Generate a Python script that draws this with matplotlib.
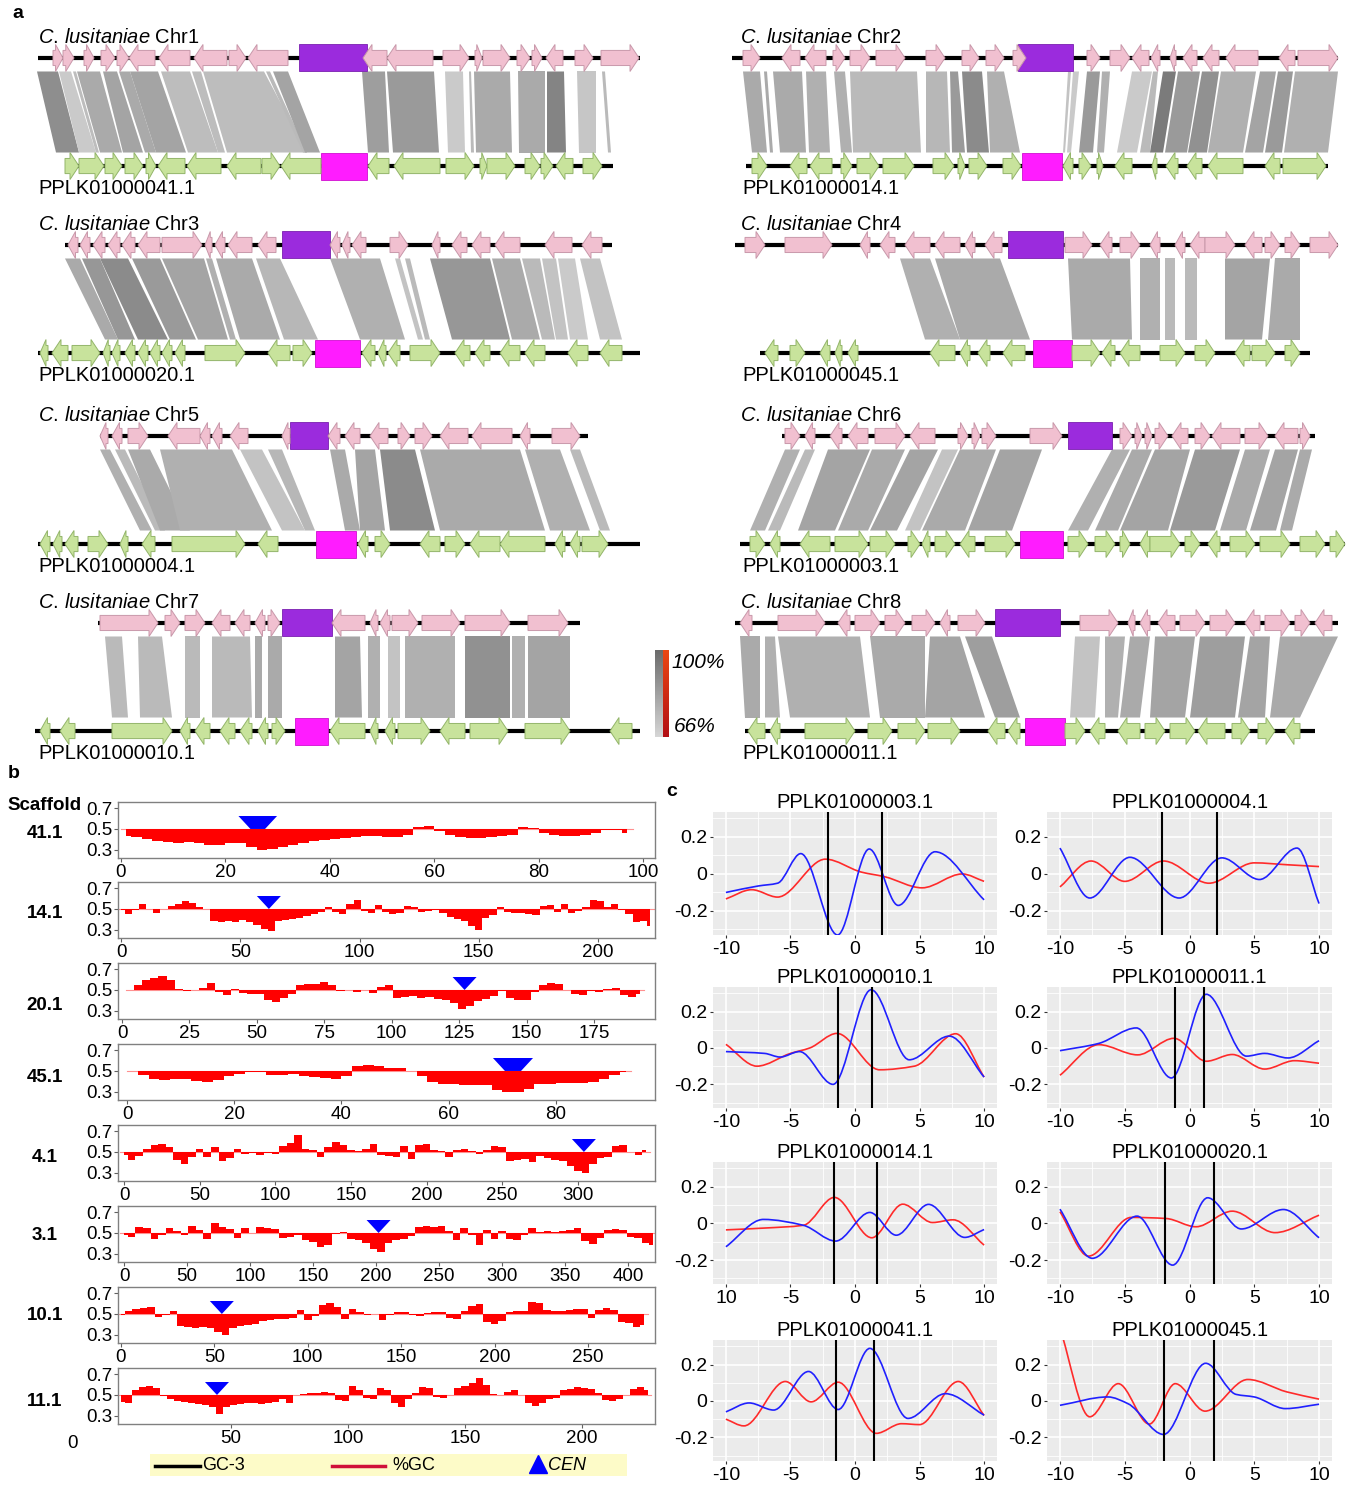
import numpy as np
import matplotlib
matplotlib.use('Agg')
import matplotlib.pyplot as plt
from matplotlib.patches import Polygon, Rectangle, PathPatch
from matplotlib.path import Path

plt.rcParams['font.family'] = ['Liberation Sans', 'DejaVu Sans']
plt.rcParams['axes.unicode_minus'] = False
plt.rcParams['mathtext.fontset'] = 'custom'
plt.rcParams['mathtext.rm'] = 'Liberation Sans'
plt.rcParams['mathtext.it'] = 'Liberation Sans:italic'

W, H = 1358, 1487

# ------------------------------------------------------------------ data: panel a
# genes: (start, end, strand); links: (top_start, top_end, bottom_start, bottom_end, identity %)
chr1_line = (38, 640); chr1_cen = (299, 367)
chr1_genes = [(53,63,1),(63,74,1),(84,94,1),(101,115,1),(117,129,1),(129,155,-1),(159,190,-1),(194,227,-1),
              (229,246,1),(248,288,-1),(363,387,-1),(387,433,-1),(443,469,1),(475,482,1),(483,510,1),(517,530,1),
              (532,542,1),(546,563,-1),(575,593,1),(601,639,1)]
s41_line = (65, 613); s41_cen = (321, 367)
s41_genes = [(65,79,1),(79,104,1),(105,122,1),(125,143,1),(146,156,1),(158,185,-1),(187,221,-1),(227,261,-1),
             (262,280,1),(281,321,-1),(368,389,-1),(394,440,-1),(446,474,1),(480,487,1),(487,515,1),(525,540,1),
             (541,553,1),(556,573,-1),(583,602,1)]
chr1_links = [(37,58,56,79,89),(59,71,79,96,70),(73,76,96,99,74),(77,100,100,122,80),(103,117,123,143,82),
              (119,130,145,156,80),(130,158,156,186,82),(161,190,188,218,74),(192,201,218,225,74),
              (203,264,227,307,74),(266,270,303,307,75),(273,288,305,320,82),(362,385,368,389,84),
              (387,434,393,439,85),(445,463,448,465,70),(469,471,471,474,75),(474,510,476,512,80),
              (518,545,519,545,80),(547,564,547,566,92),(577,596,579,596,71),(602,605,608,611,75)]

chr2_line = (732, 1338); chr2_cen = (1018, 1073)
chr2_genes = [(743,760,1),(782,800,-1),(805,826,-1),(833,845,1),(850,870,1),(876,905,1),(926,945,1),(962,979,1),
              (986,1004,1),(1013,1026,1),(1087,1100,1),(1110,1130,1),(1132,1149,-1),(1151,1160,-1),(1170,1176,-1),
              (1183,1197,-1),(1203,1219,-1),(1226,1258,-1),(1279,1295,-1),(1298,1338,1)]
s14_line = (746, 1328); s14_cen = (1022, 1062)
s14_genes = [(752,767,1),(790,807,-1),(810,832,-1),(841,852,1),(857,879,1),(883,914,1),(933,954,1),(958,965,1),
             (969,987,1),(1003,1021,1),(1063,1073,-1),(1079,1091,1),(1097,1103,1),(1115,1132,-1),(1152,1157,-1),
             (1166,1178,-1),(1187,1202,-1),(1208,1243,-1),(1265,1280,-1),(1283,1326,1)]
chr2_links = [(743,760,752,767,80),(764,767,770,773,80),(773,802,780,806,80),(806,826,809,830,78),
              (834,845,841,852,78),(850,917,853,921,75),(926,947,926,950,76),(950,958,952,965,85),
              (962,982,967,989,90),(987,1004,990,1020,78),(1068,1071,1063,1065,72),(1073,1079,1067,1071,70),
              (1087,1100,1079,1093,85),(1102,1110,1097,1104,78),(1132,1152,1117,1137,70),(1153,1158,1140,1150,75),
              (1163,1176,1150,1163,95),(1178,1200,1165,1187,85),(1202,1219,1188,1207,88),(1221,1256,1208,1243,78),
              (1260,1276,1245,1263,82),(1278,1293,1265,1282,85),(1295,1338,1284,1328,78)]

chr3_line = (65, 612); chr3_cen = (282, 330)
chr3_genes = [(68,78,-1),(80,90,-1),(93,105,-1),(108,120,-1),(122,135,-1),(138,160,-1),(162,202,1),(205,212,-1),
              (215,225,-1),(228,252,-1),(258,276,-1),(330,340,-1),(342,350,-1),(352,366,-1),(390,408,1),
              (432,440,-1),(452,467,-1),(472,490,-1),(495,520,-1),(545,572,-1),(582,602,-1)]
s20_line = (38, 640); s20_cen = (315, 360)
s20_genes = [(40,48,-1),(52,68,-1),(72,100,1),(103,110,-1),(112,120,-1),(125,135,-1),(138,148,-1),(150,160,-1),
             (162,172,-1),(175,185,-1),(205,245,1),(268,290,-1),(293,312,1),(362,375,-1),(378,386,-1),
             (388,400,-1),(410,440,1),(455,470,-1),(475,490,-1),(500,520,-1),(525,545,-1),(568,588,-1),(600,622,-1)]
chr3_links = [(65,80,105,118,80),(82,100,118,135,86),(100,128,138,168,90),(132,160,170,196,85),
              (162,204,198,228,82),(206,212,230,236,78),(216,252,240,280,80),(256,280,284,318,76),
              (330,380,360,405,78),(395,400,418,423,72),(405,410,425,430,75),(430,490,452,510,86),
              (492,520,512,540,80),(522,540,542,555,75),(542,556,556,568,72),(558,575,570,588,70),(580,600,600,622,72)]

chr4_line = (735, 1338); chr4_cen = (1008, 1063)
chr4_genes = [(745,765,1),(785,832,1),(860,870,-1),(880,895,-1),(905,930,-1),(935,960,-1),(965,975,-1),
              (985,1002,-1),(1065,1092,1),(1100,1112,-1),(1120,1140,1),(1150,1160,-1),(1175,1185,-1),
              (1190,1205,-1),(1205,1235,1),(1245,1262,-1),(1265,1280,1),(1285,1300,1),(1310,1338,1)]
s45_line = (760, 1310); s45_cen = (1033, 1072)
s45_genes = [(765,778,-1),(790,805,1),(820,830,-1),(835,842,-1),(848,858,-1),(930,955,-1),(960,970,-1),
             (978,990,-1),(1003,1025,-1),(1072,1100,1),(1102,1115,-1),(1120,1140,-1),(1160,1185,1),
             (1195,1215,1),(1235,1250,-1),(1252,1275,1),(1285,1300,1)]
chr4_links = [(900,930,925,960,78),(935,1000,960,1030,80),(1068,1130,1072,1132,80),(1140,1160,1140,1160,78),
              (1165,1175,1165,1175,75),(1185,1197,1185,1197,75),(1225,1270,1225,1262,82),(1275,1300,1268,1300,80)]

chr5_line = (100, 588); chr5_cen = (290, 328)
chr5_genes = [(100,108,-1),(112,122,-1),(128,148,1),(168,200,-1),(200,210,-1),(212,222,-1),(230,248,-1),
              (282,290,-1),(328,340,-1),(345,360,-1),(370,388,-1),(398,410,1),(415,432,1),(440,468,-1),
              (472,512,-1),(520,530,-1),(552,580,1)]
s4_line = (38, 640); s4_cen = (316, 356)
s4_genes = [(40,50,-1),(53,62,-1),(65,78,-1),(88,108,1),(120,128,-1),(142,155,-1),(172,245,1),(258,278,-1),
            (358,368,-1),(375,390,1),(420,440,-1),(445,465,1),(470,500,-1),(500,545,-1),(555,565,-1),
            (570,580,-1),(582,608,1)]
chr5_links = [(100,110,140,152,78),(115,125,155,165,75),(128,150,160,190,80),(160,232,180,272,78),
              (240,262,282,305,72),(268,282,305,315,76),(330,345,345,360,80),(355,375,360,385,82),
              (380,415,390,435,90),(420,520,440,545,80),(525,560,550,590,78),(570,580,600,610,75)]

chr6_line = (782, 1315); chr6_cen = (1068, 1112)
chr6_genes = [(785,800,1),(805,815,-1),(830,842,-1),(848,868,-1),(875,905,1),(910,935,-1),(958,968,1),
              (972,980,1),(982,996,1),(1030,1062,1),(1120,1132,1),(1135,1142,1),(1145,1152,1),(1155,1168,1),
              (1172,1188,-1),(1195,1210,1),(1212,1240,-1),(1245,1268,1),(1275,1298,-1),(1300,1310,1)]
s3_line = (740, 1345); s3_cen = (1020, 1063)
s3_genes = [(750,765,1),(770,780,-1),(800,830,-1),(835,868,1),(870,895,1),(908,920,1),(922,930,-1),
            (935,955,1),(960,975,-1),(985,1015,1),(1068,1088,1),(1095,1115,1),(1120,1130,1),(1140,1150,-1),
            (1150,1180,1),(1185,1200,1),(1208,1220,-1),(1230,1255,1),(1260,1290,1),(1300,1325,1),(1330,1345,1)]
chr6_links = [(785,800,750,765,78),(805,815,768,780,75),(828,870,798,835,82),(872,905,838,868,80),
              (910,938,870,897,82),(942,958,905,920,72),(960,996,922,965,80),(1000,1042,968,1012,82),
              (1112,1130,1068,1088,78),(1132,1152,1095,1118,80),(1155,1190,1120,1168,82),(1195,1240,1170,1215,85),
              (1245,1270,1220,1246,80),(1275,1298,1250,1276,82),(1300,1312,1280,1292,80)]

chr7_line = (98, 580); chr7_cen = (282, 332)
chr7_genes = [(100,158,1),(165,180,1),(185,205,1),(212,230,-1),(235,250,-1),(255,265,-1),(268,280,1),
              (332,365,-1),(370,378,-1),(380,390,-1),(392,418,1),(422,460,1),(465,510,1),(528,568,1)]
s10_line = (35, 640); s10_cen = (295, 328)
s10_genes = [(40,50,-1),(60,75,-1),(112,172,1),(180,190,-1),(195,210,-1),(220,235,-1),(240,252,-1),
             (258,268,-1),(272,285,1),(330,365,-1),(370,378,-1),(385,395,-1),(398,430,1),(440,465,-1),
             (470,508,1),(525,570,1),(610,632,-1)]
chr7_links = [(105,122,112,128,75),(138,162,140,172,75),(185,200,185,200,75),(212,250,212,252,75),
              (255,262,255,262,80),(268,282,268,282,80),(335,360,335,362,82),(368,380,368,380,78),
              (388,400,388,400,72),(405,455,405,455,78),(465,510,465,510,88),(512,525,512,525,78),(528,570,528,570,82)]

chr8_line = (735, 1338); chr8_cen = (995, 1060)
chr8_genes = [(740,752,-1),(778,825,1),(838,850,-1),(855,880,1),(885,905,1),(912,935,1),(940,950,-1),
              (958,985,1),(1080,1118,1),(1128,1135,-1),(1140,1150,-1),(1158,1175,-1),(1180,1205,1),
              (1210,1235,1),(1245,1260,-1),(1265,1290,1),(1295,1310,1),(1315,1332,-1)]
s11_line = (745, 1315); s11_cen = (1025, 1065)
s11_genes = [(748,765,-1),(770,780,-1),(805,855,1),(868,892,1),(898,925,1),(928,960,1),(988,1005,-1),
             (1008,1020,-1),(1065,1085,1),(1090,1105,-1),(1118,1140,-1),(1145,1165,1),(1170,1195,1),
             (1198,1225,-1),(1232,1250,1),(1258,1275,1),(1285,1300,-1)]
chr8_links = [(740,760,745,760,80),(765,775,765,780,78),(778,860,790,870,78),(870,925,880,925,80),
              (930,960,925,985,82),(965,992,995,1020,84),(1075,1100,1070,1095,72),(1105,1125,1105,1118,78),
              (1130,1150,1120,1140,80),(1155,1195,1150,1185,82),(1200,1245,1190,1235,84),(1250,1270,1238,1265,82),
              (1280,1338,1270,1300,80)]

chr_names = ['Chr1', 'Chr2', 'Chr3', 'Chr4', 'Chr5', 'Chr6', 'Chr7', 'Chr8']
scaf_names = ['PPLK01000041.1', 'PPLK01000014.1', 'PPLK01000020.1', 'PPLK01000045.1',
              'PPLK01000004.1', 'PPLK01000003.1', 'PPLK01000010.1', 'PPLK01000011.1']

# ------------------------------------------------------------------ data: panel b
b_labels = ['41.1', '14.1', '20.1', '45.1', '4.1', '3.1', '10.1', '11.1']
gc41_start, gc41_step = 1, 2
gc41 = [0.43,0.42,0.40,0.38,0.37,0.36,0.37,0.36,0.35,0.35,0.36,0.36,0.33,0.30,0.31,0.33,0.35,0.36,0.38,0.39,
        0.40,0.41,0.42,0.43,0.43,0.42,0.42,0.44,0.52,0.53,0.48,0.44,0.42,0.41,0.41,0.42,0.43,0.44,0.52,0.51,
        0.46,0.44,0.43,0.43,0.44,0.46,0.49,0.49,0.46]
gc14_start, gc14_step = 0, 3
gc14 = [0.49,0.45,0.49,0.55,0.50,0.46,0.50,0.53,0.55,0.58,0.56,0.52,0.50,0.38,0.37,0.38,0.37,0.39,0.37,0.35,
        0.31,0.29,0.38,0.39,0.40,0.41,0.43,0.45,0.47,0.52,0.47,0.45,0.55,0.59,0.48,0.46,0.54,0.47,0.45,0.46,
        0.53,0.52,0.47,0.48,0.49,0.46,0.42,0.40,0.38,0.34,0.30,0.41,0.44,0.52,0.47,0.46,0.46,0.45,0.44,0.53,
        0.54,0.47,0.55,0.46,0.48,0.52,0.59,0.58,0.52,0.55,0.49,0.45,0.37,0.38,0.34]
gc20_start, gc20_step = 3, 3
gc20 = [0.50,0.55,0.60,0.62,0.63,0.60,0.51,0.49,0.50,0.52,0.57,0.48,0.45,0.51,0.47,0.46,0.46,0.40,0.38,0.42,
        0.46,0.55,0.56,0.56,0.58,0.55,0.49,0.50,0.48,0.50,0.47,0.53,0.55,0.42,0.43,0.44,0.42,0.43,0.41,0.40,
        0.37,0.32,0.35,0.39,0.41,0.44,0.49,0.42,0.40,0.40,0.48,0.55,0.57,0.56,0.50,0.46,0.45,0.49,0.48,0.51,
        0.52,0.45,0.43,0.46]
gc45_start, gc45_step = 1, 2
gc45 = [0.50,0.46,0.42,0.41,0.42,0.42,0.40,0.39,0.41,0.45,0.47,0.49,0.49,0.46,0.46,0.47,0.45,0.44,0.43,0.42,
        0.45,0.55,0.56,0.55,0.53,0.53,0.50,0.45,0.39,0.37,0.37,0.36,0.36,0.36,0.32,0.30,0.30,0.33,0.37,0.37,
        0.38,0.38,0.38,0.39,0.42,0.46,0.49]
gc4_start, gc4_step = 0, 5
gc4 = [0.47,0.42,0.46,0.53,0.57,0.58,0.55,0.42,0.38,0.45,0.53,0.45,0.55,0.41,0.44,0.53,0.48,0.49,0.47,0.49,
       0.48,0.56,0.59,0.66,0.53,0.52,0.45,0.55,0.60,0.57,0.52,0.51,0.53,0.58,0.47,0.46,0.45,0.56,0.43,0.57,
       0.58,0.52,0.51,0.45,0.52,0.53,0.51,0.48,0.52,0.56,0.55,0.41,0.42,0.43,0.40,0.46,0.44,0.42,0.41,0.36,
       0.32,0.30,0.38,0.44,0.45,0.56,0.57,0.50,0.47,0.52]
gc3_start, gc3_step = 0, 6
gc3 = [0.48,0.46,0.56,0.55,0.44,0.48,0.55,0.52,0.48,0.57,0.53,0.44,0.60,0.56,0.54,0.45,0.55,0.50,0.56,0.55,
       0.54,0.45,0.46,0.48,0.43,0.41,0.36,0.38,0.49,0.51,0.44,0.43,0.40,0.35,0.32,0.40,0.43,0.44,0.47,0.56,
       0.57,0.56,0.57,0.52,0.43,0.55,0.48,0.38,0.53,0.44,0.52,0.44,0.43,0.48,0.55,0.51,0.52,0.51,0.52,0.53,
       0.55,0.42,0.39,0.45,0.53,0.54,0.53,0.46,0.45,0.40,0.38]
gc10_start, gc10_step = 0, 4
gc10 = [0.49,0.53,0.55,0.56,0.57,0.47,0.49,0.53,0.38,0.37,0.36,0.37,0.36,0.33,0.30,0.36,0.38,0.39,0.40,0.43,
        0.44,0.45,0.45,0.46,0.54,0.44,0.48,0.59,0.61,0.57,0.45,0.55,0.52,0.49,0.50,0.44,0.49,0.52,0.52,0.49,
        0.48,0.51,0.52,0.52,0.46,0.45,0.53,0.58,0.60,0.42,0.40,0.43,0.52,0.53,0.53,0.62,0.61,0.54,0.53,0.53,
        0.54,0.55,0.55,0.46,0.54,0.56,0.54,0.42,0.41,0.37,0.39]
gc11_start, gc11_step = 3, 3
gc11 = [0.43,0.42,0.55,0.58,0.59,0.57,0.49,0.46,0.44,0.43,0.42,0.41,0.40,0.38,0.32,0.38,0.40,0.41,0.42,0.42,
        0.41,0.42,0.43,0.46,0.42,0.50,0.51,0.52,0.52,0.53,0.52,0.45,0.44,0.59,0.55,0.47,0.46,0.57,0.55,0.42,
        0.38,0.46,0.52,0.58,0.57,0.48,0.47,0.50,0.57,0.59,0.62,0.66,0.60,0.51,0.50,0.53,0.55,0.50,0.42,0.39,
        0.42,0.46,0.47,0.55,0.56,0.58,0.57,0.56,0.52,0.45,0.44,0.46,0.50,0.56,0.58,0.55]
b_cen = [(24.8, 27.6), (62, 62), (127, 127), (70.5, 73.5), (304, 304), (202, 202), (54, 54), (44, 44)]
b_xlim = [(-0.57, 102.3), (-1.26, 223.9), (-1.5, 197.6), (-1.7, 98.5), (-4.0, 351), (-4.8, 421.4),
          (-1.6, 285.9), (1.7, 231.2)]
b_xticks = [[0, 20, 40, 60, 80, 100], [0, 50, 100, 150, 200], [0, 25, 50, 75, 100, 125, 150, 175],
            [0, 20, 40, 60, 80], [0, 50, 100, 150, 200, 250, 300], [0, 50, 100, 150, 200, 250, 300, 350, 400],
            [0, 50, 100, 150, 200, 250], [50, 100, 150, 200]]

# ------------------------------------------------------------------ data: panel c
c_names = ['PPLK01000003.1', 'PPLK01000004.1', 'PPLK01000010.1', 'PPLK01000011.1',
           'PPLK01000014.1', 'PPLK01000020.1', 'PPLK01000041.1', 'PPLK01000045.1']
c_cen = [(-2.1, 2.1), (-2.1, 2.1), (-1.3, 1.3), (-1.1, 1.1), (-1.6, 1.7), (-1.9, 1.9), (-1.5, 1.5), (-2.0, 1.9)]
c_xticklabels = [['-10', '-5', '0', '5', '10']] * 4 + [['10', '-5', '0', '5', '10']] + [['-10', '-5', '0', '5', '10']] * 3
blue_x = [[-10,-7.5,-6.0,-4.2,-1.35,1.1,3.35,6.2,10],
          [-10,-7.7,-4.6,-0.8,2.5,5.4,8.3,10],
          [-10,-7,-5.8,-4.3,-1.7,1.25,4.2,7.3,10],
          [-10,-7,-4.1,-1.4,1.3,4.4,5.8,7.6,10],
          [-10,-7.1,-4.0,-1.5,1.15,3.2,5.7,8.5,10],
          [-10,-7.5,-4.05,-1.3,1.4,4.0,7.25,10],
          [-10,-8.2,-6.3,-3.6,-1.3,1.15,4.1,7.0,10],
          [-10,-6.3,-4.75,-2.0,1.25,3.6,5.0,7.4,10]]
blue_y = [[-0.10,-0.065,-0.05,0.11,-0.33,0.135,-0.17,0.12,-0.14],
          [0.14,-0.13,0.09,-0.13,0.087,-0.03,0.14,-0.16],
          [-0.02,-0.03,-0.05,-0.02,-0.2,0.32,-0.065,0.065,-0.16],
          [-0.015,0.025,0.11,-0.165,0.295,-0.045,-0.03,-0.055,0.04],
          [-0.127,0.022,-0.01,-0.096,0.06,-0.064,0.104,-0.076,-0.033],
          [0.078,-0.19,0.04,-0.227,0.14,-0.03,0.076,-0.078],
          [-0.06,-0.011,-0.05,0.162,-0.047,0.289,-0.096,0.04,-0.078],
          [-0.024,0.022,-0.015,-0.184,0.207,0.036,0.022,-0.042,-0.018]]
red_x = [[-10,-8,-6,-2.3,0.5,2.3,5.2,8.3,10],
         [-10,-7.6,-5,-2,1.5,5,7.5,10],
         [-10,-7.6,-5,-3.5,-1.4,1.9,4.6,7.8,10],
         [-10,-7,-4,-1.2,1.3,3.3,5.8,8.1,10],
         [-10,-7,-4,-1.6,1.3,3.7,6.0,7.6,10],
         [-10,-7.8,-4.5,-1.8,0.5,3.3,6.6,10],
         [-10,-8.6,-5.4,-3.4,-1.3,1.65,3.6,5.0,8.0,10],
         [-10,-7.7,-5.5,-3.1,-1.1,1.2,4.5,7.5,10]]
red_y = [[-0.135,-0.085,-0.125,0.08,0.01,-0.015,-0.075,0.0,-0.04],
         [-0.07,0.07,-0.04,0.07,-0.05,0.06,0.05,0.04],
         [0.02,-0.1,-0.03,0.0,0.08,-0.12,-0.1,0.078,-0.16],
         [-0.15,0.018,-0.038,0.053,-0.073,-0.036,-0.116,-0.07,-0.084],
         [-0.035,-0.025,-0.01,0.142,-0.078,0.105,0.005,0.02,-0.118],
         [0.064,-0.178,0.033,0.027,-0.018,0.067,-0.05,0.045],
         [-0.1,-0.137,0.107,-0.005,0.103,-0.178,-0.125,-0.13,0.107,-0.08],
         [0.40,-0.087,0.095,-0.127,0.095,-0.056,0.118,0.05,0.01]]

# ------------------------------------------------------------------ helpers
fig = plt.figure(figsize=(W / 100, H / 100), dpi=100)


def add_ax(x0, y0, x1, y1, **kw):
    return fig.add_axes([x0 / W, 1 - y1 / H, (x1 - x0) / W, (y1 - y0) / H], **kw)


def ident_grey(p):
    t = min(max((p - 66) / 34.0, 0), 1)
    g = 0.84 - t * 0.42
    return (g, g, g)


def arrow_poly(s, e, strand, yc, bh=0.07, hh=0.125):
    hl = min(9.0, (e - s) * 0.75)
    if strand > 0:
        return [(s, yc - bh), (e - hl, yc - bh), (e - hl, yc - hh), (e, yc), (e - hl, yc + hh),
                (e - hl, yc + bh), (s, yc + bh)]
    return [(e, yc - bh), (s + hl, yc - bh), (s + hl, yc - hh), (s, yc), (s + hl, yc + hh),
            (s + hl, yc + bh), (e, yc + bh)]


# ------------------------------------------------------------------ panel a
syn = [
    (chr1_line, chr1_cen, chr1_genes, s41_line, s41_cen, s41_genes, chr1_links),
    (chr2_line, chr2_cen, chr2_genes, s14_line, s14_cen, s14_genes, chr2_links),
    (chr3_line, chr3_cen, chr3_genes, s20_line, s20_cen, s20_genes, chr3_links),
    (chr4_line, chr4_cen, chr4_genes, s45_line, s45_cen, s45_genes, chr4_links),
    (chr5_line, chr5_cen, chr5_genes, s4_line, s4_cen, s4_genes, chr5_links),
    (chr6_line, chr6_cen, chr6_genes, s3_line, s3_cen, s3_genes, chr6_links),
    (chr7_line, chr7_cen, chr7_genes, s10_line, s10_cen, s10_genes, chr7_links),
    (chr8_line, chr8_cen, chr8_genes, s11_line, s11_cen, s11_genes, chr8_links),
]
row_top = [58, 245, 436, 623]
HH = 0.125
for i, (tl, tc, tg, bl, bc, bg, links) in enumerate(syn):
    col, row = i % 2, i // 2
    xo = col * 679
    yt = row_top[row]
    ax = add_ax(xo, yt - 40, xo + 679, yt + 108 + 40)
    ax.set_xlim(xo, xo + 679)
    ax.set_ylim(-0.37, 1.37)
    ax.axis('off')
    for (t0, t1, b0, b1, p) in links:
        ax.add_patch(Polygon([(t0, 1 - HH), (t1, 1 - HH), (b1, HH), (b0, HH)], closed=True,
                             facecolor=ident_grey(p), edgecolor='none', zorder=1))
    ax.plot(tl, [1, 1], color='black', lw=3.0, solid_capstyle='butt', zorder=2)
    ax.plot(bl, [0, 0], color='black', lw=3.0, solid_capstyle='butt', zorder=2)
    ax.add_patch(Rectangle((tc[0], 1 - HH), tc[1] - tc[0], 2 * HH, facecolor='#9b2bdd',
                           edgecolor='#7a20b0', lw=0.6, zorder=3))
    ax.add_patch(Rectangle((bc[0], -HH), bc[1] - bc[0], 2 * HH, facecolor='#ff1cff',
                           edgecolor='#d010d0', lw=0.6, zorder=3))
    for (s, e, st) in tg:
        ax.add_patch(Polygon(arrow_poly(s, e, st, 1.0), closed=True, facecolor='#f1c0d0',
                             edgecolor='#c898aa', lw=0.7, zorder=4))
    for (s, e, st) in bg:
        ax.add_patch(Polygon(arrow_poly(s, e, st, 0.0), closed=True, facecolor='#c8e39c',
                             edgecolor='#93b56a', lw=0.7, zorder=4))
    ax.text(xo + (38 if col == 0 else 61), 1.185, r'$\mathit{C.\,lusitaniae}$ ' + chr_names[i],
            fontsize=14.5, va='center', ha='left')
    ax.text(xo + (38 if col == 0 else 63), -0.205, scaf_names[i], fontsize=14.5, va='center', ha='left')

# identity colour bar
cax = add_ax(655, 650, 669, 737)
cax.set_xlim(0, 2)
cax.set_ylim(66, 100)
cax.axis('off')
grad = np.linspace(66, 100, 100).reshape(-1, 1)
greys = np.array([ident_grey(v) for v in grad[:, 0]]).reshape(-1, 1, 3)
cax.imshow(greys, extent=[0, 1.15, 66, 100], origin='lower', aspect='auto')
reds = np.array([[0.70 + 0.22 * t, 0.06 + 0.22 * t, 0.08] for t in np.linspace(0, 1, 100)]).reshape(-1, 1, 3)
cax.imshow(reds, extent=[1.15, 2, 66, 100], origin='lower', aspect='auto')

# ------------------------------------------------------------------ panel b
gc_sets = [(gc41_start, gc41_step, gc41), (gc14_start, gc14_step, gc14), (gc20_start, gc20_step, gc20),
           (gc45_start, gc45_step, gc45), (gc4_start, gc4_step, gc4), (gc3_start, gc3_step, gc3),
           (gc10_start, gc10_step, gc10), (gc11_start, gc11_step, gc11)]
b_top = [802, 882, 963, 1044, 1125, 1206, 1287, 1368]
for i, (st, sp, vals) in enumerate(gc_sets):
    ax = add_ax(118, b_top[i], 655, b_top[i] + 56)
    v = np.array(vals)
    x = st + sp * np.arange(len(v))
    ax.fill_between(x, 0.5, v, step='mid', color='#ff0000', lw=0, zorder=2)
    ax.plot([x[0] - sp / 2, x[-1] + sp / 2], [0.5, 0.5], color='#ff9090', lw=0.8, zorder=1)
    x0, x1 = b_xlim[i]
    ax.set_xlim(x0, x1)
    ax.set_ylim(0.22, 0.76)
    ppu = 537.0 / (x1 - x0)
    hw = 12.0 / ppu
    c0, c1 = b_cen[i]
    ax.add_patch(Polygon([(c0 - hw, 0.625), (c1 + hw, 0.625), (c1, 0.5), (c0, 0.5)], closed=True,
                         facecolor='#0000ff', edgecolor='none', zorder=3))
    for sp_ in ax.spines.values():
        sp_.set_color('#808080')
        sp_.set_linewidth(1.0)
    ax.set_yticks([0.3, 0.5, 0.7])
    ax.set_yticklabels(['0.3', '0.5', '0.7'])
    ax.set_xticks(b_xticks[i])
    ax.tick_params(axis='both', labelsize=13.5, length=3, width=0.8, color='#606060', pad=1)

# ------------------------------------------------------------------ panel c


def pchip_path(xs, ys):
    x = np.asarray(xs, float)
    y = np.asarray(ys, float)
    h = np.diff(x)
    d = np.diff(y) / h
    m = np.zeros_like(y)
    m[0], m[-1] = d[0], d[-1]
    for k in range(1, len(y) - 1):
        if d[k - 1] * d[k] <= 0:
            m[k] = 0.0
        else:
            w1 = 2 * h[k] + h[k - 1]
            w2 = h[k] + 2 * h[k - 1]
            m[k] = (w1 + w2) / (w1 / d[k - 1] + w2 / d[k])
    verts = [(x[0], y[0])]
    codes = [Path.MOVETO]
    for k in range(len(x) - 1):
        verts += [(x[k] + h[k] / 3, y[k] + m[k] * h[k] / 3),
                  (x[k + 1] - h[k] / 3, y[k + 1] - m[k + 1] * h[k] / 3),
                  (x[k + 1], y[k + 1])]
        codes += [Path.CURVE4] * 3
    return Path(verts, codes)


c_rows = [(812, 935), (987, 1108), (1162, 1284), (1340, 1461)]
c_cols = [(713, 997), (1047, 1332)]
for i in range(8):
    col, row = i % 2, i // 2
    ax = add_ax(c_cols[col][0], c_rows[row][0], c_cols[col][1], c_rows[row][1])
    ax.set_facecolor('#ebebeb')
    ax.set_xlim(-11, 11)
    ax.set_ylim(-0.33, 0.335)
    for sp_ in ax.spines.values():
        sp_.set_visible(False)
    for gx in [-7.5, -2.5, 2.5, 7.5]:
        ax.axvline(gx, color='white', lw=0.6, zorder=0)
    for gy in [-0.3, -0.1, 0.1, 0.3]:
        ax.axhline(gy, color='white', lw=0.6, zorder=0)
    for gx in [-10, -5, 0, 5, 10]:
        ax.axvline(gx, color='white', lw=1.2, zorder=0)
    for gy in [-0.2, 0, 0.2]:
        ax.axhline(gy, color='white', lw=1.2, zorder=0)
    ax.set_xticks([-10, -5, 0, 5, 10])
    ax.set_xticklabels(c_xticklabels[i])
    ax.set_yticks([-0.2, 0, 0.2])
    ax.set_yticklabels(['-0.2', '0', '0.2'])
    ax.tick_params(labelsize=14, length=2.5, color='#333333', pad=1.5)
    ax.add_patch(PathPatch(pchip_path(red_x[i], red_y[i]), fill=False, edgecolor='#ff2a2a', lw=1.2, zorder=3))
    ax.add_patch(PathPatch(pchip_path(blue_x[i], blue_y[i]), fill=False, edgecolor='#2020ff', lw=1.2, zorder=4))
    for cx in c_cen[i]:
        ax.axvline(cx, color='black', lw=1.5, zorder=5)
    ax.set_title(c_names[i], fontsize=14.5, pad=1)

# ------------------------------------------------------------------ overlay: labels, legend
ov = fig.add_axes([0, 0, 1, 1], zorder=10)
ov.set_xlim(0, W)
ov.set_ylim(H, 0)
ov.axis('off')
ov.patch.set_alpha(0)
ov.text(12, 14, 'a', fontsize=14, fontweight='bold', va='center')
ov.text(8, 773, 'b', fontsize=14, fontweight='bold', va='center')
ov.text(666, 791, 'c', fontsize=14, fontweight='bold', va='center')
ov.text(671, 663, '100%', fontsize=15, style='italic', va='center')
ov.text(674, 727, '66%', fontsize=15, style='italic', va='center')
ov.text(45, 806, 'Scaffold', fontsize=13.5, fontweight='bold', ha='center', va='center')
for lab, yy in zip(b_labels, [834, 913, 1005, 1077, 1158, 1235, 1315, 1401]):
    ov.text(45, yy, lab, fontsize=13.5, fontweight='bold', ha='center', va='center')
ov.text(72, 1443, '0', fontsize=13.5, ha='center', va='center')
ov.add_patch(Rectangle((150, 1454), 477, 22, facecolor='#fdfbc8', edgecolor='none'))
ov.plot([155, 200], [1466, 1466], color='black', lw=2.5)
ov.text(202, 1466, 'GC-3', fontsize=13, va='center')
ov.plot([332, 385], [1466, 1466], color='#d0103a', lw=2.5)
ov.text(392, 1466, '%GC', fontsize=13, va='center')
ov.plot([538], [1464], marker='^', color='#0000ff', markersize=13, ls='none')
ov.text(548, 1465, 'CEN', fontsize=13, style='italic', va='center')

fig.savefig('out.png', dpi=100)
